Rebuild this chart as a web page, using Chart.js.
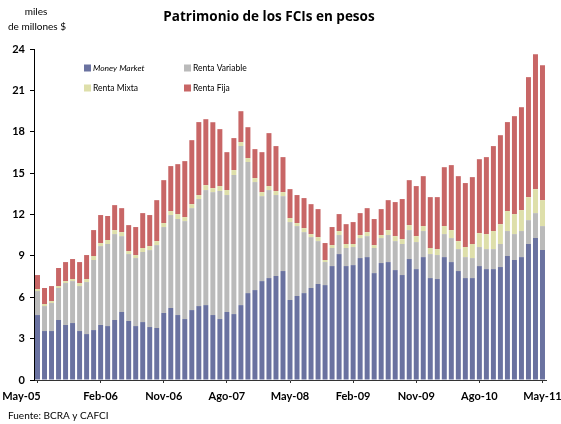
<!DOCTYPE html>
<html>
<head>
<meta charset="utf-8">
<script src="https://cdn.jsdelivr.net/npm/chart.js@4/dist/chart.umd.min.js"></script>
<style>
  html, body { margin: 0; padding: 0; background: #ffffff; }
  #wrap { width: 561px; height: 424px; }
</style>
</head>
<body>
<div id="wrap"><canvas id="c" width="561" height="424"></canvas></div>
<script>
const categories = [
  "May-05","Jun-05","Jul-05","Ago-05","Sep-05","Oct-05","Nov-05","Dic-05",
  "Ene-06","Feb-06","Mar-06","Abr-06","May-06","Jun-06","Jul-06","Ago-06","Sep-06","Oct-06","Nov-06","Dic-06",
  "Ene-07","Feb-07","Mar-07","Abr-07","May-07","Jun-07","Jul-07","Ago-07","Sep-07","Oct-07","Nov-07","Dic-07",
  "Ene-08","Feb-08","Mar-08","Abr-08","May-08","Jun-08","Jul-08","Ago-08","Sep-08","Oct-08","Nov-08","Dic-08",
  "Ene-09","Feb-09","Mar-09","Abr-09","May-09","Jun-09","Jul-09","Ago-09","Sep-09","Oct-09","Nov-09","Dic-09",
  "Ene-10","Feb-10","Mar-10","Abr-10","May-10","Jun-10","Jul-10","Ago-10","Sep-10","Oct-10","Nov-10","Dic-10",
  "Ene-11","Feb-11","Mar-11","Abr-11","May-11"
];

const moneyMarket = [
  4.71,3.55,3.55,4.35,3.99,4.13,3.55,3.33,3.62,3.99,3.91,4.35,4.93,4.28,3.91,4.20,3.84,3.77,4.86,5.22,
  4.71,4.42,5.07,5.36,5.43,4.71,4.42,4.93,4.78,5.43,6.30,6.52,7.17,7.39,7.54,7.90,5.80,6.09,6.30,6.67,
  6.96,6.88,8.26,9.13,8.26,8.33,8.84,8.91,7.75,8.48,8.55,7.97,7.61,8.77,8.04,8.91,7.39,7.32,8.91,8.55,
  7.90,7.39,7.39,8.26,8.04,8.04,8.19,8.99,8.70,8.91,9.86,10.29,9.42
];
const rentaVariable = [
  1.74,1.81,2.03,2.32,3.04,3.04,3.26,3.77,5.08,5.72,5.95,6.23,5.50,4.85,4.93,5.08,5.58,6.01,6.23,6.74,
  6.96,7.10,7.39,7.76,8.34,8.91,9.28,8.48,10.08,11.53,9.50,7.83,6.16,6.38,5.87,5.43,5.65,5.07,4.42,3.69,
  3.11,1.67,1.31,1.38,1.31,1.31,1.45,1.52,1.82,1.81,1.96,2.10,2.25,2.10,1.96,1.89,1.74,1.74,1.67,1.74,
  1.59,1.52,1.45,1.38,1.45,1.45,1.67,1.81,1.88,1.89,1.73,1.81,1.74
];
const rentaMixta = [
  0.14,0.15,0.14,0.14,0.14,0.15,0.22,0.22,0.29,0.22,0.29,0.29,0.29,0.22,0.22,0.29,0.29,0.29,0.29,0.29,
  0.36,0.29,0.29,0.29,0.36,0.29,0.36,0.36,0.36,0.29,0.29,0.29,0.29,0.29,0.29,0.29,0.29,0.22,0.29,0.22,
  0.29,0.15,0.21,0.29,0.29,0.22,0.22,0.29,0.21,0.22,0.36,0.36,0.36,0.36,0.43,0.36,0.44,0.43,0.58,0.58,
  0.58,0.73,1.02,1.01,1.09,1.31,1.44,1.45,1.45,1.52,1.67,1.74,1.88
];
const rentaFija = [
  1.02,1.16,1.09,1.31,1.38,1.45,1.52,1.74,1.88,2.03,1.74,1.81,1.74,1.88,2.03,2.53,2.25,2.97,3.11,3.26,
  3.62,4.06,4.64,5.29,4.78,4.78,4.13,2.75,2.32,2.24,2.24,2.10,2.90,3.84,3.26,2.54,2.10,2.03,2.18,2.17,
  2.03,1.23,1.31,1.23,1.44,1.59,1.59,1.74,1.89,1.88,2.17,2.47,2.90,3.26,3.63,3.62,3.69,3.77,4.27,4.71,
  4.71,4.64,4.85,5.36,5.58,6.16,6.45,6.45,7.10,7.46,8.70,9.78,9.79
];
const seriesNames = ["Money Market", "Renta Variable", "Renta Mixta", "Renta Fija"];
const yTicks = [0, 3, 6, 9, 12, 15, 18, 21, 24];

const FONT = "Lato, 'DejaVu Sans', sans-serif";
const colors = ["#6a72a0", "#bababa", "#dedfaa", "#c86666"];

const extras = {
  id: 'extras',
  afterDraw(chart) {
    const ctx = chart.ctx;
    ctx.save();
    ctx.fillStyle = '#000';
    // title
    ctx.font = "bold 13.5px 'Open Sans', " + FONT;
    ctx.textAlign = 'center';
    ctx.textBaseline = 'middle';
    ctx.fillText("Patrimonio de los FCIs en pesos", 269, 17);
    // unit label
    ctx.font = "10px " + FONT;
    ctx.fillText("miles", 36, 12);
    ctx.fillText("de millones $", 37, 27);
    // source
    ctx.textAlign = 'left';
    ctx.fillText("Fuente: BCRA y CAFCI", 8, 416);
    // legend
    const pos = [[84, 68], [184, 68], [84, 88], [184, 88]];
    chart.data.datasets.forEach((ds, i) => {
      const [x, y] = pos[i];
      ctx.fillStyle = ds.backgroundColor;
      ctx.fillRect(x, y - 3.5, 7, 7);
      ctx.fillStyle = '#000';
      ctx.font = (i === 0 ? "italic " : "") + "8.5px " + FONT;
      ctx.textAlign = 'left';
      ctx.textBaseline = 'middle';
      ctx.fillText(ds.label, x + 9, y);
    });
    ctx.restore();
  }
};

const seriesData = [moneyMarket, rentaVariable, rentaMixta, rentaFija];

new Chart(document.getElementById('c'), {
  type: 'bar',
  data: {
    labels: categories,
    datasets: seriesNames.map((name, i) => ({
      label: name,
      data: seriesData[i],
      backgroundColor: colors[i],
      borderWidth: 0,
      barPercentage: 0.71,
      categoryPercentage: 1.0
    }))
  },
  options: {
    responsive: false,
    devicePixelRatio: 1,
    animation: false,
    layout: { padding: { top: 49, right: 15, left: 0, bottom: 0 } },
    plugins: {
      legend: { display: false },
      title: { display: false },
      tooltip: { enabled: false }
    },
    scales: {
      x: {
        stacked: true,
        grid: { display: true, drawOnChartArea: false, drawTicks: true, tickLength: 3, color: '#333', offset: false },
        border: { display: true, color: '#333', width: 1 },
        ticks: {
          autoSkip: false, maxRotation: 0, minRotation: 0, padding: 7, color: '#000',
          font: { family: FONT, size: 11, weight: 'bold' },
          callback: function(value, index) {
            const lbl = this.getLabelForValue(value);
            return index === 0 ? lbl + '            ' : lbl;
          }
        },
        afterBuildTicks: s => { s.ticks = s.ticks.filter((t, i) => i % 9 === 0); },
        afterFit: s => { s.height = 44; s.paddingLeft = 0; s.paddingRight = 0; }
      },
      y: {
        stacked: true,
        min: 0,
        max: 24,
        grid: { display: true, drawOnChartArea: false, drawTicks: true, tickLength: 4, color: '#000' },
        border: { display: true, color: '#000', width: 1 },
        ticks: {
          stepSize: 3, padding: 5, color: '#000',
          font: { family: FONT, size: 11, weight: 'bold' }
        },
        afterBuildTicks: s => { s.ticks = yTicks.map(v => ({ value: v })); },
        afterFit: s => { s.width = 34; }
      }
    }
  },
  plugins: [extras]
});
</script>
</body>
</html>
